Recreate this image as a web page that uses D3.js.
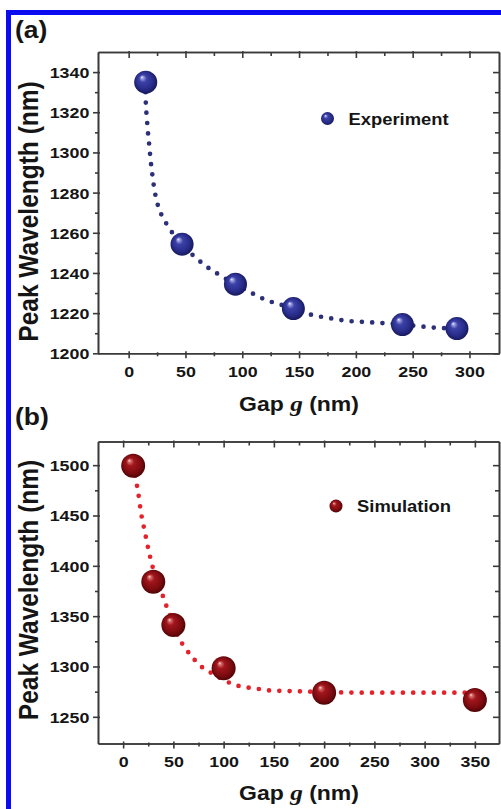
<!DOCTYPE html>
<html lang="en">
<head>
<meta charset="UTF-8">
<title>Peak wavelength vs gap</title>
<style>
  body { margin: 0; background: #fff; }
  svg { display: block; }
  text { font-family: "Liberation Sans", Arial, sans-serif; font-weight: bold; fill: #151515; }
  .axis path, .axis line { stroke: #3a3a3a; stroke-width: 1.6; }
  .axis text { font-size: 15.5px; font-family: "Liberation Sans", Arial, sans-serif; font-weight: bold; fill: #151515; }
</style>
</head>
<body>
<svg id="chart" width="501" height="809"></svg>
<script src="https://cdn.jsdelivr.net/npm/d3@7/dist/d3.min.js"></script>
<script>

// (a) experiment
const expGap  = [15, 47, 94, 145, 241, 289];
const expPeak = [1335, 1254.3, 1234.4, 1222.3, 1214.3, 1212.3];
// dotted fit line
const expFitGap  = [14.9, 15.1, 15.7, 16.4, 17.2, 18.1, 18.9, 19.9, 21.0, 22.2, 26.1, 30.5, 35.7, 46.6, 59.9, 69.2, 78.0, 93.6, 103.9, 113.2, 121.5, 130.3, 144.9, 156.7, 175.7, 193.3, 210.9, 241.2, 274, 288.7];
const expFitPeak = [1330, 1324.6, 1319.1, 1314.1, 1308.6, 1303.7, 1298.7, 1293.2, 1288.2, 1283.2, 1272.9, 1267.3, 1262.3, 1254.3, 1247.2, 1242.9, 1239.7, 1234.4, 1231.3, 1228.6, 1226.4, 1224.8, 1222.3, 1219.8, 1217.6, 1216.1, 1215.5, 1214.3, 1212.6, 1212.3];
const expXTicks = [0, 50, 100, 150, 200, 250, 300];
const expYTicks = [1200, 1220, 1240, 1260, 1280, 1300, 1320, 1340];

// (b) simulation
const simGap  = [10, 30, 50, 100, 200, 350];
const simPeak = [1499.5, 1384.2, 1341.2, 1298.2, 1274, 1266.7];
const simFitGap  = [10, 12.8, 14.5, 16.1, 17.5, 19.5, 21.8, 23.8, 26.1, 28.5, 32.2, 35.7, 39.2, 42.7, 46.7, 50.6, 54.9, 61.6, 69.3, 79.2, 89.8, 100.4, 110.3, 120.3, 131.2, 141.2, 151.1, 171.1, 200, 250, 300, 340];
const simFitPeak = [1499.5, 1485.5, 1475.3, 1465.4, 1454.5, 1443.8, 1432.9, 1422.4, 1412.4, 1401.8, 1391.9, 1381.5, 1371, 1361.1, 1351.1, 1341.2, 1329.6, 1318.7, 1308.7, 1298.8, 1292.5, 1286.5, 1282, 1279.6, 1278.3, 1276.6, 1276, 1275.5, 1274.5, 1274, 1274, 1274];
const simXTicks = [0, 50, 100, 150, 200, 250, 300, 350];
const simYTicks = [1250, 1300, 1350, 1400, 1450, 1500];

const SX = 1.15; // the original figure is stretched sideways

const svg = d3.select("#chart");
const defs = svg.append("defs");

function sphere(id, stops) {
    const grad = defs.append("radialGradient")
        .attr("id", id)
        .attr("cx", "50%").attr("cy", "50%").attr("r", "55%")
        .attr("fx", "33%").attr("fy", "28%");
    stops.forEach(s => grad.append("stop").attr("offset", s[0]).attr("stop-color", s[1]));
}
sphere("blueBall", [[0, "#f6f6ff"], [0.1, "#9da0e0"], [0.3, "#3c41a8"], [0.7, "#272b88"], [1, "#12144e"]]);
sphere("redBall", [[0, "#ffe6e6"], [0.1, "#d77070"], [0.3, "#a1161c"], [0.7, "#7c0b0f"], [1, "#420305"]]);

// frame
svg.append("rect")
    .attr("x", 8.5).attr("y", 12.5)
    .attr("width", 600).attr("height", 900)
    .attr("fill", "none")
    .attr("stroke", "#0b0bf2")
    .attr("stroke-width", 5);

const panels = [
    {
        letter: "(a)", letterY: 38,
        gap: expGap, peak: expPeak, fitGap: expFitGap, fitPeak: expFitPeak,
        xTicks: expXTicks, yTicks: expYTicks, xMinorStep: 25, yMinorStep: 10,
        xDomain: [-27, 326], yDomain: [1200, 1350],
        top: 52, bottom: 353.3,
        ball: "url(#blueBall)", dot: "#2b3079", r: 11.5,
        legend: "Experiment", legendX: 327.5, legendY: 118.5,
        yLabelY: 211.5, xLabelY: 411
    },
    {
        letter: "(b)", letterY: 425,
        gap: simGap, peak: simPeak, fitGap: simFitGap, fitPeak: simFitPeak,
        xTicks: simXTicks, yTicks: simYTicks, xMinorStep: 25, yMinorStep: 25,
        xDomain: [-25, 374], yDomain: [1223.5, 1523.5],
        top: 441.5, bottom: 743.5,
        ball: "url(#redBall)", dot: "#e3222b", r: 12,
        legend: "Simulation", legendX: 336, legendY: 506,
        yLabelY: 590, xLabelY: 800
    }
];

const left = 98, right = 499;

panels.forEach(p => {
    const g = svg.append("g");

    const x = d3.scaleLinear().domain(p.xDomain).range([left, right]);
    const y = d3.scaleLinear().domain(p.yDomain).range([p.bottom, p.top]);

    const xMinor = d3.range(p.xTicks[0] - p.xMinorStep, p.xDomain[1], p.xMinorStep * 2)
        .filter(v => v > p.xDomain[0] + 3 && v < p.xDomain[1] - 3);
    const yMinor = d3.range(p.yTicks[0] - p.yMinorStep, p.yDomain[1], p.yMinorStep * 2)
        .filter(v => v > p.yDomain[0] + 3 && v < p.yDomain[1] - 3);

    // bottom / top use axisBottom, left / right use axisLeft; ticks all point the same way
    function axis(maker, scale, values, pos, isX, size, back, labels) {
        const a = maker(scale).tickValues(values).tickSize(size).tickSizeOuter(0)
            .tickFormat(labels ? d3.format("d") : "");
        const ax = g.append("g")
            .attr("class", "axis")
            .attr("transform", isX ? `translate(0,${pos})` : `translate(${pos},0)`)
            .call(a);
        if (isX) ax.selectAll(".tick line").attr("y1", -back);
        else ax.selectAll(".tick line").attr("x1", back);
        return ax;
    }

    // minor ticks
    axis(d3.axisBottom, x, xMinor, p.bottom, true, 3, 1, false);
    axis(d3.axisBottom, x, xMinor, p.top, true, 4, 0, false);
    axis(d3.axisLeft, y, yMinor, left, false, 3, 1, false);
    axis(d3.axisLeft, y, yMinor, right, false, 4, 0, false);

    // major ticks
    const bx = axis(d3.axisBottom, x, p.xTicks, p.bottom, true, 5, 2, true);
    axis(d3.axisBottom, x, p.xTicks, p.top, true, 6, 1, false);
    const ly = axis(d3.axisLeft, y, p.yTicks, left, false, 5, 2, true);
    axis(d3.axisLeft, y, p.yTicks, right, false, 6, 1, false);

    bx.selectAll(".tick text")
        .attr("y", 12.5)
        .attr("transform", `scale(${SX},1)`);
    ly.selectAll(".tick text")
        .attr("x", -8.7 / SX)
        .attr("dy", "0.35em")
        .attr("transform", `scale(${SX},1)`);

    // dotted fit line
    const line = d3.line()
        .x(d => x(d[0]))
        .y(d => y(d[1]))
        .curve(d3.curveMonotoneX);

    g.append("path")
        .datum(d3.zip(p.fitGap, p.fitPeak))
        .attr("d", line)
        .attr("fill", "none")
        .attr("stroke", p.dot)
        .attr("stroke-width", 4.7)
        .attr("stroke-linecap", "round")
        .attr("stroke-dasharray", "0 10.3");

    // data spheres
    g.selectAll("circle.ball")
        .data(d3.zip(p.gap, p.peak))
        .join("circle")
        .attr("class", "ball")
        .attr("cx", d => x(d[0]))
        .attr("cy", d => y(d[1]))
        .attr("r", p.r)
        .attr("fill", p.ball);

    // legend
    g.append("circle")
        .attr("cx", p.legendX)
        .attr("cy", p.legendY)
        .attr("r", 6.5)
        .attr("fill", p.ball);
    g.append("text")
        .attr("transform", `translate(${p.legendX + 21},${p.legendY + 6}) scale(${SX},1)`)
        .attr("font-size", 16)
        .text(p.legend);

    // panel letter
    g.append("text")
        .attr("transform", `translate(15,${p.letterY}) scale(${SX},1)`)
        .attr("font-size", 23)
        .text(p.letter);

    // y title
    g.append("text")
        .attr("transform", `translate(37.5,${p.yLabelY}) rotate(-90) scale(1,${SX})`)
        .attr("text-anchor", "middle")
        .attr("font-size", 24.5)
        .text("Peak Wavelength (nm)");

    // x title
    const xt = g.append("text")
        .attr("transform", `translate(299,${p.xLabelY}) scale(${SX},1)`)
        .attr("text-anchor", "middle")
        .attr("font-size", 20);
    xt.append("tspan").text("Gap ");
    xt.append("tspan")
        .attr("font-family", "'Liberation Serif', 'Times New Roman', serif")
        .attr("font-style", "italic")
        .attr("font-size", 22)
        .text("g");
    xt.append("tspan").text(" (nm)");
});

</script>
</body>
</html>
